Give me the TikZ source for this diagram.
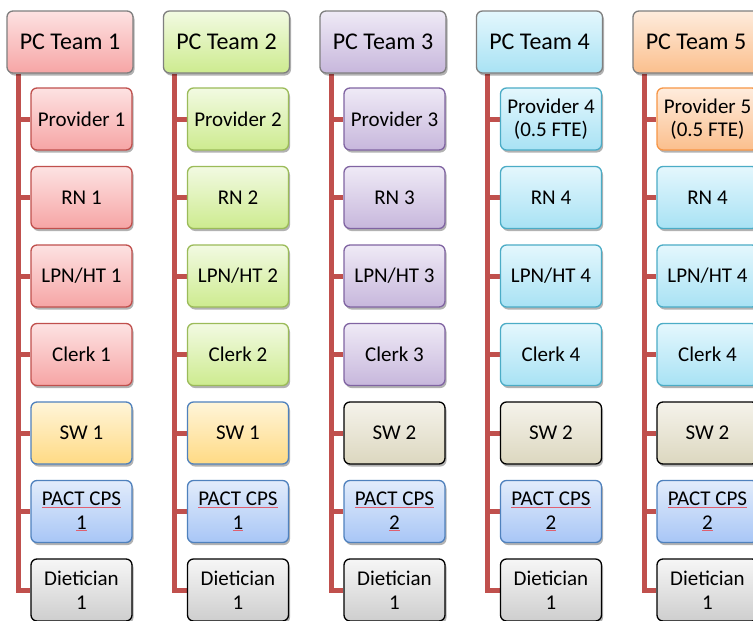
\documentclass[tikz,border=0pt]{standalone}
\usepackage{fontspec}
\setmainfont{Carlito}
\usetikzlibrary{shadows}
\definecolor{conn}{HTML}{C0504D}
\definecolor{hdrline}{HTML}{7F7F7F}
\definecolor{redT}{HTML}{FDE2E2}\definecolor{redB}{HTML}{F6A5A5}\definecolor{redD}{HTML}{C0504D}
\definecolor{grnT}{HTML}{F2FAE2}\definecolor{grnB}{HTML}{CDEB8F}\definecolor{grnD}{HTML}{9BBB59}
\definecolor{purT}{HTML}{EFEAF6}\definecolor{purB}{HTML}{C7B7DC}\definecolor{purD}{HTML}{8064A2}
\definecolor{cyaT}{HTML}{E4F7FD}\definecolor{cyaB}{HTML}{A8E2F4}\definecolor{cyaD}{HTML}{4BACC6}
\definecolor{oraT}{HTML}{FEECDD}\definecolor{oraB}{HTML}{FBBF8D}\definecolor{oraD}{HTML}{F79646}
\definecolor{yelT}{HTML}{FFF5D9}\definecolor{yelB}{HTML}{FFDA84}\definecolor{yelD}{HTML}{4F81BD}
\definecolor{tanT}{HTML}{F5F3EB}\definecolor{tanB}{HTML}{DCD7BF}
\definecolor{bluT}{HTML}{E2ECFB}\definecolor{bluB}{HTML}{A8C6F6}\definecolor{bluD}{HTML}{4F81BD}
\definecolor{gryT}{HTML}{F6F6F6}\definecolor{gryB}{HTML}{CECECE}
\definecolor{spell}{HTML}{E06070}
\pgfdeclarelayer{paper}
\pgfdeclarelayer{background}
\pgfsetlayers{paper,background,main}
\newcommand\spl[1]{{\color{spell}\underline{\color{black}#1}}}
\tikzset{
  box/.style={rounded corners=6pt, line width=1.3pt, align=center, inner sep=2pt,
    drop shadow={shadow xshift=1.5pt, shadow yshift=-2.5pt, opacity=0.3, fill=black}},
  hdr/.style={box, draw=hdrline, minimum width=126pt, minimum height=62pt,
    font=\fontsize{24}{27}\selectfont},
  kid/.style={box, minimum width=101pt, minimum height=62pt,
    font=\fontsize{21}{23.5}\selectfont},
  tRed/.style={top color=redT, bottom color=redB, draw=redD},
  tGrn/.style={top color=grnT, bottom color=grnB, draw=grnD},
  tPur/.style={top color=purT, bottom color=purB, draw=purD},
  tCya/.style={top color=cyaT, bottom color=cyaB, draw=cyaD},
  tOra/.style={top color=oraT, bottom color=oraB, draw=oraD},
  tYel/.style={top color=yelT, bottom color=yelB, draw=yelD},
  tTan/.style={top color=tanT, bottom color=tanB, draw=black},
  tBlu/.style={top color=bluT, bottom color=bluB, draw=bluD},
  tGry/.style={top color=gryT, bottom color=gryB, draw=black},
  hRed/.style={top color=redT, bottom color=redB},
  hGrn/.style={top color=grnT, bottom color=grnB},
  hPur/.style={top color=purT, bottom color=purB},
  hCya/.style={top color=cyaT, bottom color=cyaB},
  hOra/.style={top color=oraT, bottom color=oraB},
  conn/.style={draw=conn, line width=5pt},
}
\newcommand\teamcol[4]{% #1 index, #2 header text, #3 header style, #4 rows
  \pgfmathsetmacro\dx{(#1-1)*156.5}
  \node[hdr,#3] (h#1) at (\dx+70,42) {#2};
  \foreach \k/\t/\s in {#4} {
    \node[kid,\s] (c#1-\k) at (\dx+81.5,{119+78.5*(\k-1)}) {\t};
  }
  \begin{pgfonlayer}{background}
    \coordinate (t#1) at ([xshift=12pt]h#1.south west);
    \draw[conn] (t#1) |- (c#1-7.west);
    \foreach \k in {1,...,6} {\draw[conn] (c#1-\k.west -| t#1) -- (c#1-\k.west);}
  \end{pgfonlayer}
}
\begin{document}
\begin{tikzpicture}[x=1pt,y=-1pt]
\useasboundingbox (0,0) rectangle (753,621);
\begin{pgfonlayer}{paper}
\fill[white] (0,0) rectangle (753,621);
\end{pgfonlayer}
\teamcol{1}{PC Team 1}{hRed}{1/Provider 1/tRed, 2/RN 1/tRed, 3/{LPN/HT 1}/tRed, 4/Clerk 1/tRed, 5/SW 1/tYel, 6/{\spl{PACT CPS}\\\spl{1}}/tBlu, 7/{Dietician\\1}/tGry}
\teamcol{2}{PC Team 2}{hGrn}{1/Provider 2/tGrn, 2/RN 2/tGrn, 3/{LPN/HT 2}/tGrn, 4/Clerk 2/tGrn, 5/SW 1/tYel, 6/{\spl{PACT CPS}\\\spl{1}}/tBlu, 7/{Dietician\\1}/tGry}
\teamcol{3}{PC Team 3}{hPur}{1/Provider 3/tPur, 2/RN 3/tPur, 3/{LPN/HT 3}/tPur, 4/Clerk 3/tPur, 5/SW 2/tTan, 6/{\spl{PACT CPS}\\\spl{2}}/tBlu, 7/{Dietician\\1}/tGry}
\teamcol{4}{PC Team 4}{hCya}{1/{Provider 4\\(0.5 FTE)}/tCya, 2/RN 4/tCya, 3/{LPN/HT 4}/tCya, 4/Clerk 4/tCya, 5/SW 2/tTan, 6/{\spl{PACT CPS}\\\spl{2}}/tBlu, 7/{Dietician\\1}/tGry}
\teamcol{5}{PC Team 5}{hOra}{1/{Provider 5\\(0.5 FTE)}/tOra, 2/RN 4/tCya, 3/{LPN/HT 4}/tCya, 4/Clerk 4/tCya, 5/SW 2/tTan, 6/{\spl{PACT CPS}\\\spl{2}}/tBlu, 7/{Dietician\\1}/tGry}
\end{tikzpicture}
\end{document}
